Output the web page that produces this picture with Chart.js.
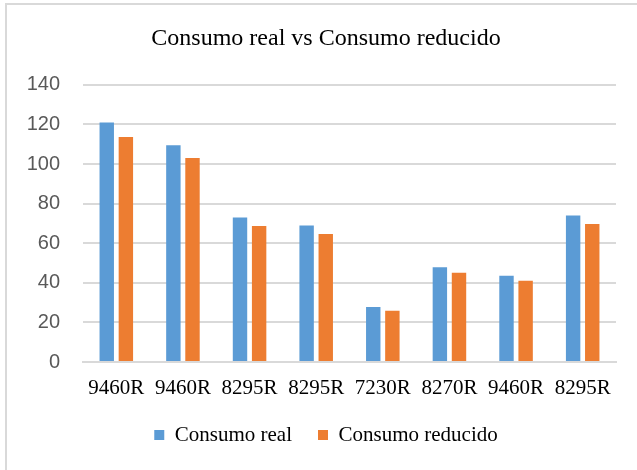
<!DOCTYPE html>
<html>
<head>
<meta charset="utf-8">
<script src="https://cdn.jsdelivr.net/npm/chart.js@4"></script>
<style>
  body { margin: 0; background: #fff; }
  #wrap { position: relative; width: 637px; height: 470px; overflow: hidden; }
  #frame { position: absolute; left: 5px; top: 3px; width: 700px; height: 600px; border: 2px solid #d9d9d9; }
  canvas { position: absolute; left: 0; top: 0; }
</style>
</head>
<body>
<div id="wrap">
  <div id="frame"></div>
  <canvas id="chart" width="637" height="470"></canvas>
</div>
<script>
  // chart data
  const categories = ['9460R', '9460R', '8295R', '8295R', '7230R', '8270R', '9460R', '8295R'];
  const consumoReal = [121, 109.5, 73, 69, 27.8, 47.8, 43.6, 74];
  const consumoReducido = [113.6, 103, 68.7, 64.6, 25.9, 45.1, 41, 69.7];
  const yTicks = [0, 20, 40, 60, 80, 100, 120, 140];

  const serif = "'Liberation Serif', 'Times New Roman', serif";
  const sans = "'Liberation Sans', Arial, sans-serif";

  new Chart(document.getElementById('chart'), {
    type: 'bar',
    data: {
      labels: categories,
      datasets: [
        { label: 'Consumo real', data: consumoReal, backgroundColor: '#5b9bd5' },
        { label: 'Consumo reducido', data: consumoReducido, backgroundColor: '#ed7d31' }
      ]
    },
    options: {
      responsive: false,
      animation: false,
      devicePixelRatio: 1,
      categoryPercentage: 0.574,
      barPercentage: 0.754,
      // left padding shifts title + legend centre to match the original
      layout: { padding: { left: 15, right: 0, top: 0, bottom: 14.5 } },
      plugins: {
        title: {
          display: true,
          text: 'Consumo real vs Consumo reducido',
          color: '#000',
          font: { family: serif, size: 24, weight: 'normal' },
          padding: { top: 24, bottom: 32 }
        },
        legend: {
          position: 'bottom',
          labels: {
            boxWidth: 10,
            boxHeight: 10,
            padding: 26,
            color: '#000',
            font: { family: serif, size: 21 }
          }
        },
        tooltip: { enabled: false }
      },
      scales: {
        x: {
          grid: { display: false, drawTicks: false },
          border: { color: '#d9d9d9', width: 2 },
          ticks: { color: '#000', padding: 14, font: { family: serif, size: 21 } },
          afterFit: (scale) => { scale.height = 36.5; }
        },
        y: {
          min: 0,
          max: 140,
          afterBuildTicks: (scale) => { scale.ticks = yTicks.map(v => ({ value: v })); },
          grid: { color: '#d9d9d9', lineWidth: 2, drawTicks: false },
          border: { display: false },
          ticks: { color: '#595959', padding: 23, font: { family: sans, size: 20 } },
          afterFit: (scale) => { scale.width = 68; }
        },
        // empty right-hand spacer so the plot ends where the original does
        y2: {
          type: 'linear',
          position: 'right',
          grid: { display: false, drawTicks: false },
          border: { display: false },
          ticks: { display: false },
          afterFit: (scale) => { scale.width = 21; }
        }
      }
    }
  });
</script>
</body>
</html>
